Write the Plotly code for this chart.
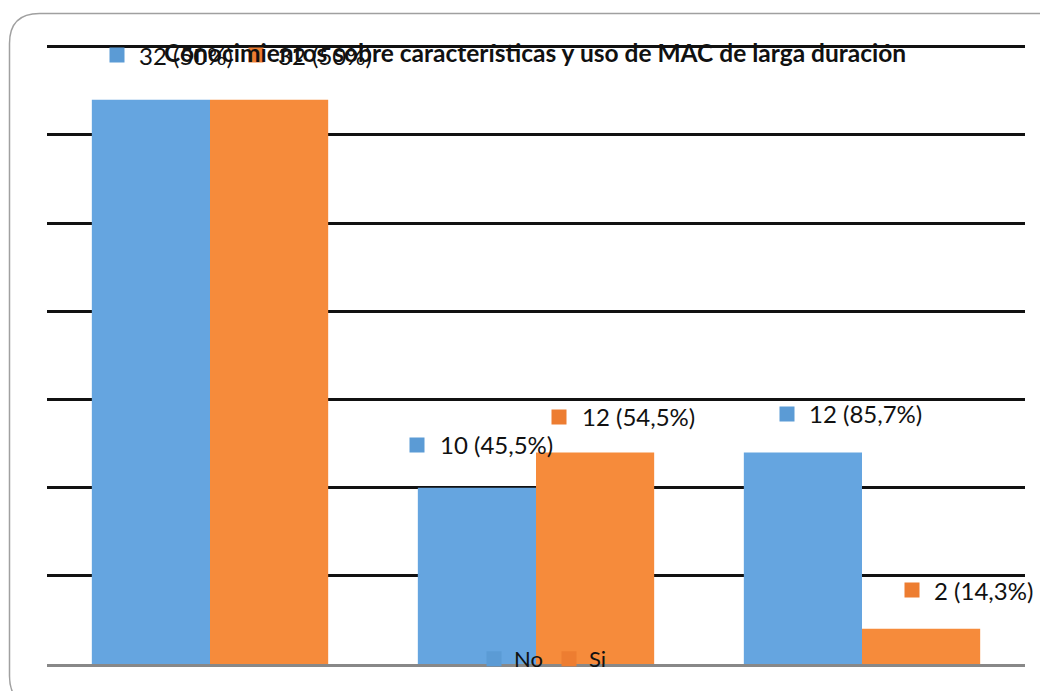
import plotly.graph_objects as go

categories = ["Grupo 1", "Grupo 2", "Grupo 3"]
series_names = ["No", "Si"]
no_values = [32, 10, 12]
si_values = [32, 12, 2]
no_labels = ["32 (50%)", "10 (45,5%)", "12 (85,7%)"]
si_labels = ["32 (50%)", "12 (54,5%)", "2 (14,3%)"]
title_text = "Conocimientos sobre características y uso de MAC de larga duración"

BLUE = "#65A5E0"
ORANGE = "#F68B3B"
BLUE_KEY = "#5B9BD5"
ORANGE_KEY = "#ED7D31"

W, H = 1040, 683
ML, MR, MT, MB = 39, 23, 37, 27
PW, PH = W - ML - MR, H - MT - MB
Y_TOP = 35.1
FONT = "Lato"
LABEL_SIZE = 24

fig = go.Figure()
fig.add_trace(go.Bar(x=categories, y=no_values, name=series_names[0], marker_color=BLUE,
                     marker_line_width=0, showlegend=False))
fig.add_trace(go.Bar(x=categories, y=si_values, name=series_names[1], marker_color=ORANGE,
                     marker_line_width=0, showlegend=False))
# legend keys (Excel-style darker swatches)
for nm, col in [(series_names[0], BLUE_KEY), (series_names[1], ORANGE_KEY)]:
    fig.add_trace(go.Scatter(x=[None], y=[None], mode="markers", name=nm,
                             marker=dict(symbol="square", size=15, color=col)))

# label placement (pixels): square left edge / text left edge relative to category centre,
# vertical lift above bar top
no_sq_dx = [-101, -127, -83]
no_tx_dx = [-72, -97, -54]
no_dy = [44.5, 42.7, 38.4]
si_sq_dx = [38, 15, 42]
si_tx_dx = [67, 45, 71]
si_dy = [44.5, 35.4, 38.7]

annotations = []
for i, cat in enumerate(categories):
    for vals, labs, sqdx, txdx, dy, key in [
        (no_values, no_labels, no_sq_dx, no_tx_dx, no_dy, BLUE_KEY),
        (si_values, si_labels, si_sq_dx, si_tx_dx, si_dy, ORANGE_KEY),
    ]:
        annotations.append(dict(
            x=cat, y=vals[i], xref="x", yref="y",
            xshift=sqdx[i], yshift=dy[i], xanchor="left", yanchor="middle",
            showarrow=False, text=" ", width=14, height=14, bgcolor=key, borderpad=0,
            font=dict(size=4),
        ))
        annotations.append(dict(
            x=cat, y=vals[i], xref="x", yref="y",
            xshift=txdx[i], yshift=dy[i], xanchor="left", yanchor="middle",
            showarrow=False, borderpad=0, text=labs[i],
            font=dict(family=FONT, size=LABEL_SIZE, color="#111111"),
        ))

annotations.append(dict(
    x=(527 - ML) / PW, y=(MT + PH - 44) / PH, xref="paper", yref="paper",
    xanchor="center", yanchor="middle", showarrow=False,
    text=f"<b>{title_text}</b>",
    font=dict(family=FONT, size=24.5, color="#111111"),
))

# rounded chart border
x0, x1 = (1.5 - ML) / PW, (1060 - ML) / PW
y1, y0 = (MT + PH - 5.5) / PH, (MT + PH - 698) / PH
rx, ry = 30 / PW, 30 / PH
path = (f"M {x0+rx},{y1} L {x1-rx},{y1} Q {x1},{y1} {x1},{y1-ry} "
        f"L {x1},{y0+ry} Q {x1},{y0} {x1-rx},{y0} L {x0+rx},{y0} "
        f"Q {x0},{y0} {x0},{y0+ry} L {x0},{y1-ry} Q {x0},{y1} {x0+rx},{y1} Z")

fig.update_layout(
    width=W, height=H,
    margin=dict(l=ML, r=MR, t=MT, b=MB, autoexpand=False),
    paper_bgcolor="white", plot_bgcolor="white",
    barmode="group", bargap=0.275, bargroupgap=0,
    showlegend=True,
    legend=dict(orientation="h", x=(488 - 8 - ML - 14) / PW, xanchor="left",
                y=(MT + PH - 651) / PH, yanchor="middle",
                bgcolor="rgba(0,0,0,0)", font=dict(family=FONT, size=22, color="#111111"),
                itemwidth=30, traceorder="normal", tracegroupgap=0,
                entrywidth=30, entrywidthmode="pixels"),
    annotations=annotations,
    shapes=[dict(type="path", path=path, xref="paper", yref="paper",
                 line=dict(color="#A0A0A0", width=1.5), layer="below")],
    font=dict(family=FONT),
)
fig.update_xaxes(range=[-0.5, 2.5], autorange=False, showticklabels=False, showgrid=False,
                 ticks="", showline=True, linecolor="#888888", linewidth=2.5)
fig.update_yaxes(range=[0, Y_TOP], dtick=5, showticklabels=False, ticks="",
                 showgrid=True, gridcolor="#111111", gridwidth=2.5, zeroline=False,
                 showline=False)

fig.write_html("out.html")
